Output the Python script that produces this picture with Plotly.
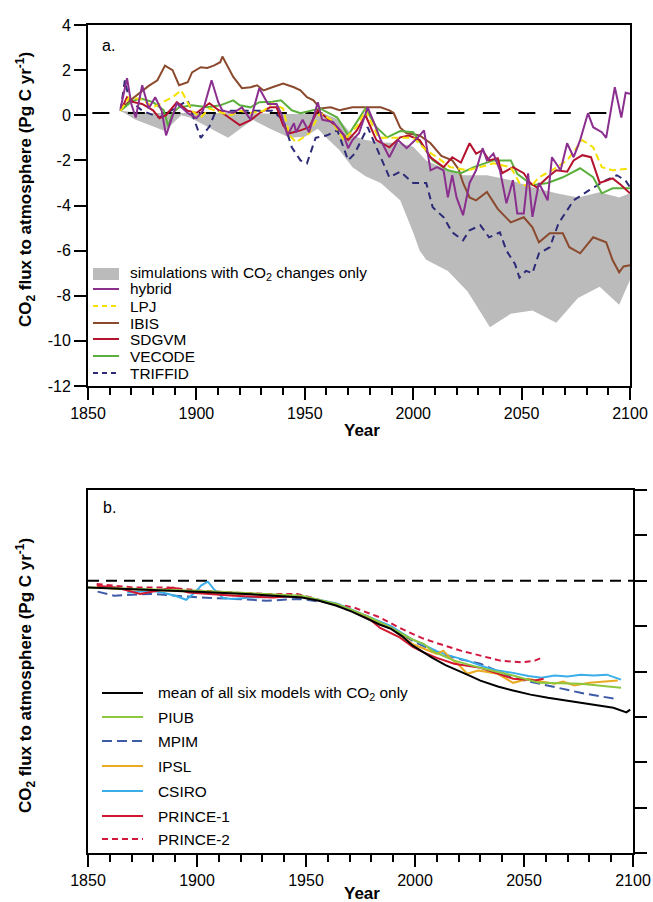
import plotly.graph_objects as go

W, H = 653, 902

# ---------------- panel a: CO2 flux from the DGVM runs ----------------
band_upper_years = [1865, 1875, 1890, 1900, 1920, 1940, 1950, 1958, 1966, 1972, 1978, 1985, 1994,
                    2000, 2006, 2016, 2023, 2034, 2045, 2055, 2066, 2076, 2086, 2095, 2100]
band_upper = [0.2, 0.1, 0.1, 0.1, 0.1, 0.05, 0.05, 0.1, -0.2, -0.9, -1.1, -1.2, -1.24,
              -1.4, -2.0, -2.44, -2.66, -2.66, -2.88, -3.19, -3.46, -3.64, -3.41, -3.64, -3.46]
band_lower_years = [1865, 1872, 1885.5, 1893, 1897, 1914.6, 1926, 1934, 1943, 1950, 1956, 1960,
                    1966, 1972, 1978, 1985, 1994, 2000, 2003, 2006, 2016, 2025, 2035.4, 2045,
                    2055, 2066, 2076, 2086, 2095, 2100]
band_lower = [0.2, -0.2, -0.7, 0.0, -0.1, -1.0, -0.2, -0.6, -1.0, -0.95, -0.6, -1.0,
              -1.55, -2.3, -2.7, -3.0, -3.77, -5.2, -6.0, -6.4, -6.9, -7.8, -9.4, -8.8,
              -8.65, -9.2, -8.1, -7.6, -8.4, -7.3]

hybrid_years = [1865, 1868, 1870, 1872, 1875, 1878, 1881, 1884, 1886, 1891, 1896, 1900, 1903,
                1907, 1910, 1912, 1917, 1921, 1925, 1929, 1933, 1937, 1939, 1942, 1945, 1946,
                1949, 1952, 1956, 1958, 1963, 1968, 1970, 1972, 1975, 1979, 1982, 1985, 1989,
                1993, 1997, 2002, 2005, 2008, 2011, 2014, 2016, 2018, 2020, 2023, 2026, 2029,
                2032, 2034, 2037, 2040, 2043, 2046, 2048, 2051, 2053, 2055, 2058, 2062, 2064,
                2068, 2071, 2074, 2077, 2080.6, 2083, 2087, 2089, 2093, 2096, 2098, 2100]
hybrid = [0.3, 1.64, 0.5, -0.1, 1.33, 0.3, 0.8, 0.2, -0.89, 0.53, 0.1, -0.13, 0.2,
          1.55, 0.6, 0.2, 0.1, 0.35, -0.2, 1.2, 0.5, 0.5, 0.1, -0.89, -0.35, -0.75,
          -0.2, -0.75, 0.58, -0.2, -0.3, -0.89, -1.46, -1.1, -0.8, 0.35, -0.35, -1.1, -1.86,
          -1.1, -1.46, -1.0, -0.67, -2.44, -2.3, -2.44, -3.64, -2.66, -3.64, -4.43, -3.0, -2.44,
          -1.46, -2.0, -1.7, -2.44, -3.9, -2.88, -4.35, -4.35, -2.57, -4.5, -3.0, -3.77, -1.86,
          -2.44, -1.24, -1.86, -1.1, 0.09, -0.53, -0.75, -1.0, 1.24, -0.1, 1.0, 0.95]

lpj_years = [1865, 1869, 1875, 1880, 1885, 1889, 1893, 1898, 1902, 1906, 1912, 1916, 1920,
             1925, 1931, 1935, 1940, 1943, 1946, 1952, 1957, 1962, 1968, 1974, 1978, 1984,
             1994, 2000, 2006, 2011, 2017, 2025, 2031, 2037, 2045, 2049, 2054, 2058, 2064,
             2071, 2078, 2083, 2087, 2092, 2100]
lpj = [0.2, 0.8, 0.7, 0.35, 0.6, 0.8, 1.1, 0.2, -0.1, 0.3, 0.1, 0.0, 0.2,
       0.1, 0.2, 0.53, 0.3, -0.9, -1.2, -0.8, 0.1, -0.2, -1.1, -0.5, 0.22, -1.0,
       -1.0, -1.0, -1.55, -1.86, -2.3, -2.44, -2.3, -2.13, -2.3, -3.0, -3.2, -2.75, -2.44,
       -2.0, -1.1, -1.42, -2.3, -2.44, -2.35]

ibis_years = [1865, 1866, 1870, 1874, 1878, 1882, 1885.5, 1889, 1892, 1896, 1898, 1902, 1905,
              1908, 1911, 1912, 1917, 1921, 1925, 1928, 1931, 1935, 1940, 1945, 1948, 1951,
              1954, 1957, 1962, 1966, 1972, 1979, 1985, 1989, 1991, 1994, 1997, 2003, 2008,
              2013, 2018, 2021, 2023, 2026, 2029, 2034, 2039, 2045, 2051, 2055, 2058, 2063,
              2069, 2072, 2077, 2083, 2089, 2092, 2095, 2097, 2100]
ibis = [0.2, 0.35, 0.7, 1.0, 1.3, 1.55, 2.2, 2.0, 1.33, 1.46, 1.9, 2.13, 2.1,
        2.2, 2.35, 2.6, 1.7, 1.2, 1.24, 1.33, 1.1, 1.24, 1.4, 1.24, 1.1, 0.8,
        0.66, 0.3, 0.35, 0.22, 0.35, 0.35, 0.35, 0.22, 0.1, -0.55, -0.8, -0.89, -1.24,
        -1.8, -2.0, -2.4, -3.0, -3.64, -3.77, -3.4, -4.15, -4.75, -4.52, -4.97, -5.63, -5.23,
        -5.23, -5.85, -6.12, -5.41, -5.63, -6.43, -6.96, -6.7, -6.65]

sdgvm_years = [1865, 1868, 1871, 1875, 1880, 1883, 1886, 1891, 1896, 1900, 1906, 1909, 1912,
               1915, 1920, 1925, 1929, 1934, 1937, 1940, 1943, 1948, 1952, 1956, 1960, 1965,
               1970, 1974, 1978, 1983, 1989, 1994, 1998, 2003, 2008, 2014, 2018, 2022, 2026,
               2029, 2032, 2035, 2039, 2041, 2046, 2051, 2054, 2057, 2062, 2066, 2071, 2074,
               2078, 2082, 2086, 2092, 2096, 2100]
sdgvm = [0.2, 0.8, 0.58, 0.5, 0.22, -0.13, 0.0, 0.58, 0.2, 0.1, 0.53, 0.3, 0.1,
         -0.1, -0.44, -0.22, 0.09, 0.35, 0.35, -0.44, -0.8, -0.67, -0.53, 0.22, -0.1, -0.53,
         -1.1, -0.67, 0.0, -1.1, -1.42, -0.98, -0.9, -1.1, -1.86, -2.3, -1.86, -2.1, -1.24,
         -1.7, -1.55, -2.0, -1.9, -2.57, -2.3, -2.57, -3.0, -3.2, -2.75, -2.44, -2.5, -2.0,
         -1.77, -1.86, -3.0, -2.8, -3.1, -3.46]

vecode_years = [1865, 1870, 1874, 1880, 1885, 1887, 1889, 1892, 1898, 1905, 1911, 1917, 1920,
                1925, 1929, 1935, 1939, 1944, 1948, 1954, 1957, 1965, 1970, 1978, 1983, 1988,
                1994, 2000, 2009, 2016, 2022, 2028, 2037, 2045, 2048, 2055, 2062, 2069, 2077,
                2083, 2087, 2092, 2100]
vecode = [0.2, 0.6, 0.75, 0.58, 0.22, -0.5, 0.1, 0.35, 0.44, 0.35, 0.44, 0.66, 0.44,
          0.35, 0.58, 0.6, 0.66, 0.22, 0.09, 0.22, 0.3, -0.1, -0.89, 0.3, -0.53, -0.98,
          -0.7, -0.75, -2.0, -2.44, -2.57, -2.3, -2.0, -2.0, -2.6, -3.1, -3.0, -2.75, -2.35,
          -2.75, -3.46, -3.24, -3.24]

triffid_years = [1865, 1867, 1869, 1875, 1883, 1891, 1896, 1899, 1902, 1906, 1909, 1915, 1925,
                 1935, 1940, 1944, 1948, 1951, 1955, 1960, 1965, 1970, 1973, 1976, 1979, 1985,
                 1989, 1994, 2000, 2006, 2009, 2014, 2018, 2023, 2026, 2031, 2035, 2040, 2043,
                 2047, 2049, 2052, 2055, 2058, 2063, 2067, 2074, 2081, 2089, 2094, 2098, 2100]
triffid = [0.2, 1.55, 0.7, 0.2, -0.1, 0.35, 0.66, -0.2, -1.0, -0.5, 0.2, 0.2, 0.2,
           0.2, -0.2, -1.42, -2.0, -2.13, -1.0, -0.9, -0.67, -2.0, -1.7, -1.1, -0.53, -1.86,
           -2.75, -2.5, -3.0, -3.0, -4.08, -4.52, -5.19, -5.54, -5.1, -4.88, -5.41, -5.19, -6.0,
           -6.6, -7.2, -6.9, -7.0, -6.12, -5.85, -4.8, -3.77, -3.33, -2.88, -2.66, -2.9, -3.19]

ref_a_years = [1852, 2095]
ref_a = [0.1, 0.1]

# ---------------- panel b: CO2 flux from the carbon cycle models ----------------
mean_years = [1850, 1875, 1900, 1925, 1948, 1956, 1964, 1971, 1978, 1984, 1989, 1994, 1999,
              2004, 2008, 2014, 2020, 2025, 2030, 2038, 2045, 2053, 2061, 2068, 2076, 2084,
              2091, 2097, 2098.7]
mean_all = [-0.15, -0.19, -0.24, -0.3, -0.37, -0.44, -0.55, -0.68, -0.84, -0.97, -1.06, -1.22, -1.43,
            -1.58, -1.70, -1.86, -1.98, -2.09, -2.2, -2.33, -2.42, -2.51, -2.58, -2.63, -2.69, -2.74,
            -2.8, -2.9, -2.84]

piub_years = [1850, 1900, 1948, 1964, 1978, 1989, 1999, 2004, 2008, 2018, 2030, 2045, 2057, 2076, 2094.5]
piub = [-0.15, -0.22, -0.33, -0.51, -0.78, -1.04, -1.30, -1.39, -1.55, -1.76, -1.92, -2.09, -2.25, -2.27, -2.36]

mpim_years = [1854.4, 1862, 1879, 1902, 1917, 1932, 1947, 1964, 1978, 1989, 1999, 2010, 2020,
              2030, 2045, 2061, 2076, 2091.4]
mpim = [-0.24, -0.33, -0.29, -0.37, -0.40, -0.44, -0.40, -0.51, -0.78, -1.02, -1.33, -1.58, -1.72,
        -1.83, -2.14, -2.31, -2.47, -2.6]

ipsl_years = [1860, 1900, 1948, 1964, 1978, 1989, 1999, 2010, 2013, 2016, 2020, 2024, 2029,
              2038, 2045, 2052, 2058, 2064, 2068, 2073, 2080, 2086, 2093]
ipsl = [-0.17, -0.24, -0.35, -0.52, -0.80, -1.04, -1.40, -1.61, -1.54, -1.70, -1.85, -2.05, -1.98,
        -2.05, -2.25, -2.16, -2.22, -2.27, -2.22, -2.31, -2.25, -2.22, -2.2]

csiro_years = [1868, 1875, 1879, 1884, 1890, 1895, 1899, 1902, 1905, 1908, 1912, 1916, 1925,
               1947, 1964, 1978, 1989, 1999, 2010, 2015, 2024, 2032, 2038, 2045, 2052, 2058,
               2064, 2070, 2076, 2082, 2088, 2094.5]
csiro = [-0.26, -0.24, -0.22, -0.26, -0.33, -0.42, -0.26, -0.1, -0.02, -0.2, -0.38, -0.4, -0.37,
         -0.33, -0.5, -0.78, -1.0, -1.3, -1.55, -1.64, -1.76, -1.9, -1.98, -2.03, -2.1, -2.14,
         -2.09, -2.11, -2.07, -2.09, -2.07, -2.18]

prince1_years = [1854, 1863, 1874, 1882, 1889, 1896, 1905, 1917, 1935, 1946, 1964, 1978, 1984,
                 1993, 1999, 2004, 2010, 2018, 2030, 2039, 2045, 2052, 2055, 2059]
prince1 = [-0.11, -0.15, -0.29, -0.22, -0.15, -0.26, -0.29, -0.33, -0.37, -0.33, -0.52, -0.80, -1.04,
           -1.25, -1.46, -1.58, -1.70, -1.83, -1.92, -2.07, -2.16, -2.18, -2.2, -2.16]

prince2_years = [1854, 1871, 1887, 1902, 1917, 1932, 1946, 1957, 1963, 1972, 1984, 1993, 2003,
                 2011, 2021, 2030, 2039, 2049, 2055, 2059]
prince2 = [-0.07, -0.15, -0.15, -0.22, -0.26, -0.29, -0.29, -0.44, -0.51, -0.59, -0.81, -1.04, -1.26,
           -1.39, -1.54, -1.65, -1.76, -1.8, -1.76, -1.68]

ref_b_years = [1850, 2100]
ref_b = [0.0, 0.0]

x_ticks = [1850, 1900, 1950, 2000, 2050, 2100]
y_ticks_a = [4, 2, 0, -2, -4, -6, -8, -10, -12]
y_ticks_b = [2, 1, 0, -1, -2, -3, -4, -5, -6]

FONT = "Liberation Sans, Arial, Helvetica, sans-serif"


def px(x):
    return x / W


def py(y):
    return 1 - y / H


fig = go.Figure()

# panel a
fig.add_trace(go.Scatter(x=band_upper_years + band_lower_years[::-1],
                         y=band_upper + band_lower[::-1],
                         fill="toself", fillcolor="#BBBBBB", line=dict(width=0),
                         mode="lines", xaxis="x", yaxis="y", hoverinfo="skip"))
fig.add_trace(go.Scatter(x=ref_a_years, y=ref_a, mode="lines",
                         line=dict(color="black", width=2, dash="17px,18.5px"),
                         xaxis="x", yaxis="y"))

series_a = [
    ("TRIFFID", triffid_years, triffid, "#2D2A78", "7px,5px"),
    ("IBIS", ibis_years, ibis, "#8B4A2E", "solid"),
    ("VECODE", vecode_years, vecode, "#5BAF3C", "solid"),
    ("SDGVM", sdgvm_years, sdgvm, "#B5122E", "solid"),
    ("LPJ", lpj_years, lpj, "#F5E100", "7px,4px"),
    ("hybrid", hybrid_years, hybrid, "#8B2F8F", "solid"),
]
for name, xs, ys, col, dash in series_a:
    fig.add_trace(go.Scatter(x=xs, y=ys, mode="lines", name=name,
                             line=dict(color=col, width=2, dash=dash),
                             xaxis="x", yaxis="y"))

# panel b
fig.add_trace(go.Scatter(x=ref_b_years, y=ref_b, mode="lines",
                         line=dict(color="black", width=2, dash="11px,7px"),
                         xaxis="x2", yaxis="y2"))
series_b = [
    ("PRINCE-2", prince2_years, prince2, "#D2173F", "6px,4px", 2),
    ("MPIM", mpim_years, mpim, "#3E5BA8", "10px,5px", 2),
    ("CSIRO", csiro_years, csiro, "#3BAEEA", "solid", 2),
    ("IPSL", ipsl_years, ipsl, "#EAAA22", "solid", 2),
    ("PRINCE-1", prince1_years, prince1, "#D2172F", "solid", 2),
    ("PIUB", piub_years, piub, "#8DC63F", "solid", 2),
    ("mean", mean_years, mean_all, "black", "solid", 2),
]
for name, xs, ys, col, dash, w in series_b:
    fig.add_trace(go.Scatter(x=xs, y=ys, mode="lines", name=name,
                             line=dict(color=col, width=w, dash=dash),
                             xaxis="x2", yaxis="y2"))

axis_common = dict(showgrid=False, zeroline=False, showline=True, linecolor="black",
                   linewidth=2, mirror=True, ticks="outside", tickcolor="black",
                   tickwidth=2, automargin=False,
                   tickfont=dict(family=FONT, size=16, color="black"))

xa = dict(axis_common, range=[1850, 2100], tickvals=x_ticks, ticklen=12,
          minor=dict(tickvals=[v for v in range(1860, 2100, 10) if v % 50], ticklen=7,
                     tickwidth=2, tickcolor="black", ticks="outside"))

shapes = []
annotations = []

# legend for panel a
shapes.append(dict(type="rect", xref="paper", yref="paper", x0=px(93), x1=px(119),
                   y0=py(280), y1=py(268), fillcolor="#BBBBBB", line=dict(width=0)))
annotations.append(dict(text="simulations with CO<sub>2</sub> changes only", x=px(128), y=py(274)))
leg_a = [("hybrid", "#8B2F8F", "solid", 289), ("LPJ", "#F5E100", "5px,4px", 306),
         ("IBIS", "#8B4A2E", "solid", 323), ("SDGVM", "#B5122E", "solid", 339),
         ("VECODE", "#5BAF3C", "solid", 356), ("TRIFFID", "#2D2A78", "5px,4px", 373)]
for label, col, dash, yy in leg_a:
    shapes.append(dict(type="line", xref="paper", yref="paper", x0=px(93), x1=px(119),
                       y0=py(yy), y1=py(yy), line=dict(color=col, width=2, dash=dash)))
    annotations.append(dict(text=label, x=px(128), y=py(yy)))

# legend for panel b
leg_b = [("mean of all six models with CO<sub>2</sub> only", "black", "solid", 693),
         ("PIUB", "#8DC63F", "solid", 717), ("MPIM", "#3E5BA8", "10px,5px", 741),
         ("IPSL", "#EAAA22", "solid", 766), ("CSIRO", "#3BAEEA", "solid", 791),
         ("PRINCE-1", "#D2172F", "solid", 816), ("PRINCE-2", "#D2173F", "6px,4px", 839)]
for label, col, dash, yy in leg_b:
    shapes.append(dict(type="line", xref="paper", yref="paper", x0=px(102), x1=px(143),
                       y0=py(yy), y1=py(yy), line=dict(color=col, width=2, dash=dash)))
    annotations.append(dict(text=label, x=px(156), y=py(yy)))

for a in annotations:
    a.update(xref="paper", yref="paper", xanchor="left", yanchor="middle", showarrow=False,
             font=dict(family=FONT, size=15.4, color="black"))

ytitle = "<b>CO<sub>2</sub> flux to atmosphere (Pg C yr<sup>-1</sup>)</b>"
extra = [
    dict(text="a.", x=px(100), y=py(45), xanchor="left", font_size=16),
    dict(text="b.", x=px(101), y=py(507), xanchor="left", font_size=16),
    dict(text=ytitle, x=px(25), y=py(190), textangle=-90, font_size=17),
    dict(text=ytitle, x=px(25), y=py(676), textangle=-90, font_size=17),
    dict(text="<b>Year</b>", x=px(362), y=py(431), font_size=17),
    dict(text="<b>Year</b>", x=px(362), y=py(893), font_size=17),
]
for e in extra:
    fs = e.pop("font_size")
    e.update(xref="paper", yref="paper", yanchor="middle", showarrow=False,
             font=dict(family=FONT, size=fs, color="black"))
    e.setdefault("xanchor", "center")
    annotations.append(e)

fig.update_layout(
    width=W, height=H, margin=dict(l=0, r=0, t=0, b=0),
    paper_bgcolor="white", plot_bgcolor="white", showlegend=False,
    font=dict(family=FONT, color="black"),
    xaxis=dict(xa, domain=[px(88), px(630)], anchor="y"),
    yaxis=dict(axis_common, domain=[py(386), py(25)], anchor="x", range=[-12, 4],
               tickvals=y_ticks_a, ticktext=[str(v) for v in y_ticks_a], ticklen=12),
    xaxis2=dict(xa, domain=[px(88), px(633)], anchor="y2"),
    yaxis2=dict(axis_common, domain=[py(853), py(490)], anchor="x2", range=[-6, 2],
                side="right", tickvals=y_ticks_b, showticklabels=False, ticklen=12),
    shapes=shapes, annotations=annotations,
)

fig.write_html("out.html")
